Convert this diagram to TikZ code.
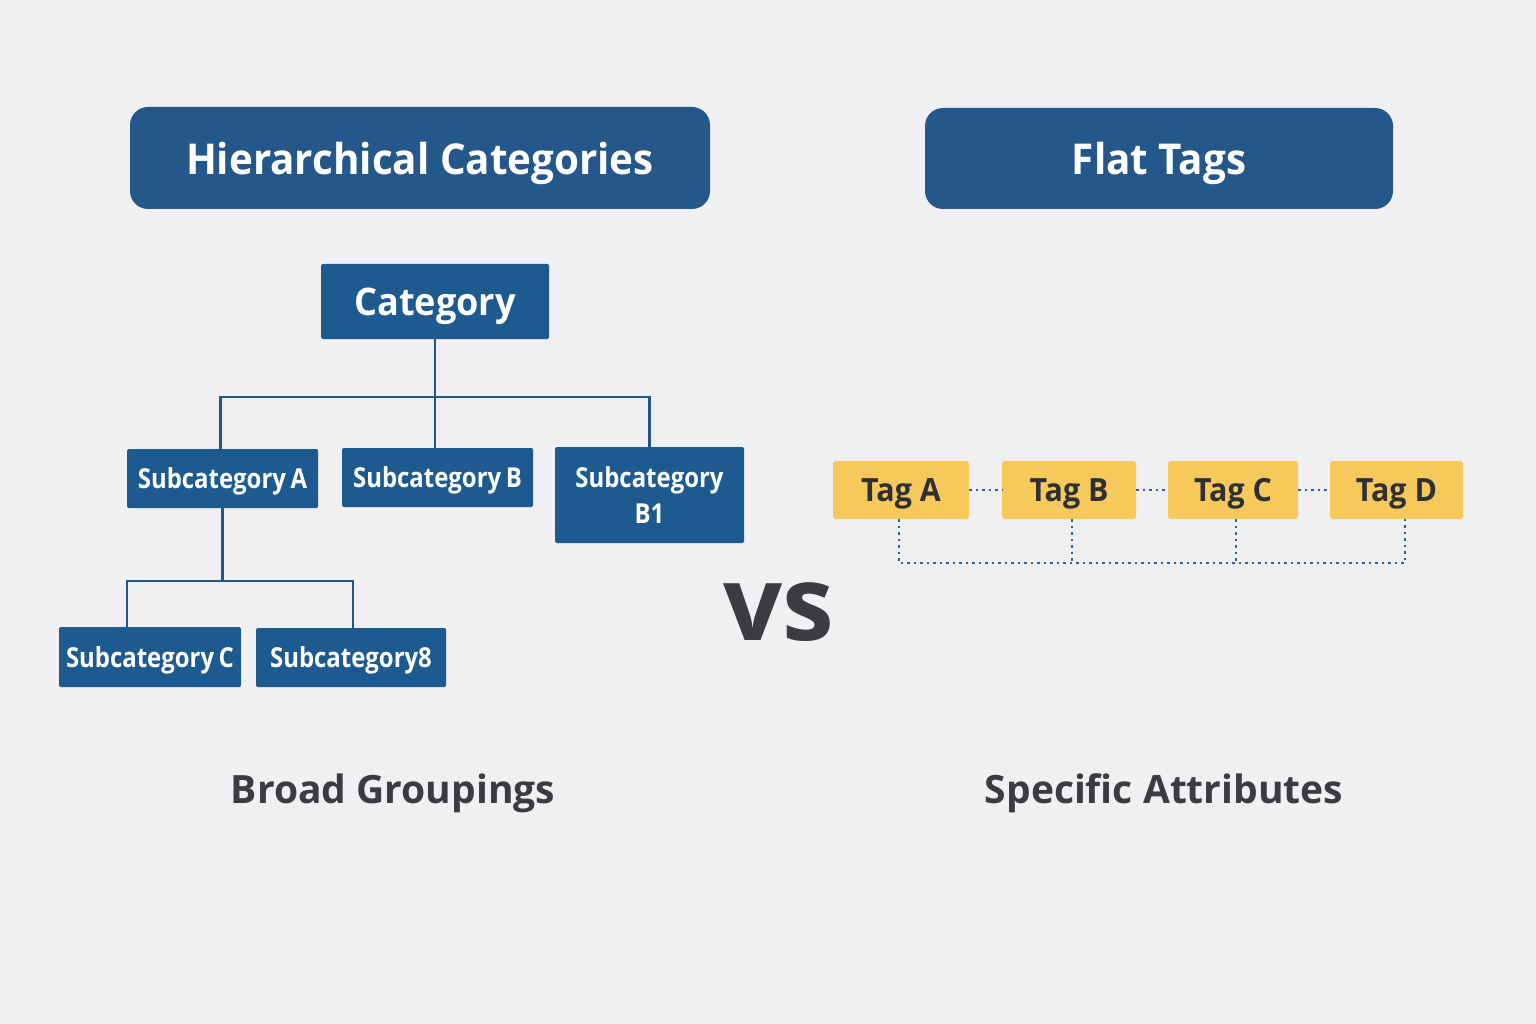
\documentclass[tikz,border=0pt]{standalone}
\usepackage{fontspec}
\setmainfont{Open Sans}
\newfontfamily\narrowfont[FakeStretch=0.95]{Open Sans}
\newfontfamily\condfont[FakeStretch=0.87]{Open Sans}
\usetikzlibrary{positioning}

\definecolor{bgcolor}{RGB}{240,240,242}
\definecolor{headblue}{RGB}{36,88,138}
\definecolor{boxblue}{RGB}{29,90,144}
\definecolor{lineblue}{RGB}{33,86,136}
\definecolor{dotblue}{RGB}{45,100,160}
\definecolor{tagyellow}{RGB}{247,201,92}
\definecolor{darktext}{RGB}{58,60,64}

\begin{document}
\begin{tikzpicture}[x=1pt,y=-1pt,
    header/.style={rectangle, rounded corners=18pt, fill=headblue, text=white, text depth=0pt,
        font=\narrowfont\bfseries\fontsize{42.5}{50}\selectfont, inner sep=0pt},
    catbox/.style={rectangle, rounded corners=1.5pt, fill=boxblue, text=white,
        inner sep=0pt, align=center},
    tagbox/.style={rectangle, rounded corners=3pt, fill=tagyellow, text=darktext!80!black,
        minimum height=58pt, inner sep=0pt, text depth=0pt,
        font=\narrowfont\bfseries\fontsize{32}{36}\selectfont},
    tree/.style={draw=lineblue, line width=2.6pt},
    dots/.style={draw=dotblue, line width=2pt, dash pattern=on 2.5pt off 4pt},
    caption/.style={text=darktext, text depth=0pt, font=\bfseries\fontsize{39}{46}\selectfont}]

% background and page size
\fill[bgcolor] (0,0) rectangle (1536,1024);
\useasboundingbox (0,0) rectangle (1536,1024);

% headers
\node[header, minimum width=580pt, minimum height=102pt] (hier) at (420,158) {Hierarchical Categories};
\node[header, minimum width=468pt, minimum height=101pt] (flat) at (1159,158.5) {Flat Tags};

% category tree
\node[catbox, minimum width=228pt, minimum height=75pt, text depth=0pt,
      font=\narrowfont\bfseries\fontsize{38}{44}\selectfont] (cat) at (435,301.5) {Category};
\begin{scope}[every node/.append style={font=\condfont\bfseries\fontsize{27.5}{36}\selectfont}]
\node[catbox, minimum width=191pt, minimum height=59pt, text depth=0pt] (subA) at (222.5,478.5) {Subcategory\,A};
\node[catbox, minimum width=191pt, minimum height=59pt, text depth=0pt] (subB) at (437.5,477.5) {Subcategory\,B};
\node[catbox, minimum width=189pt, minimum height=96pt] (subB1) at (649.5,495) {Subcategory\\B1};
\node[catbox, minimum width=182pt, minimum height=60pt, text depth=0pt] (subC) at (150,657) {Subcategory\,C};
\node[catbox, minimum width=190pt, minimum height=59pt, text depth=0pt] (sub8) at (351,657.5) {Subcategory8};
\end{scope}

\coordinate (split1) at (435,397);
\coordinate (split2) at (222.5,581);
\draw[tree] (cat.south) -- (split1);
\draw[tree] (split1) -| ([xshift=-2pt]subA.north);
\draw[tree] (split1) -- (split1 |- subB.north);
\draw[tree] (split1) -| (subB1.north);
\draw[tree] (subA.south) -- (split2);
\draw[tree] (split2) -| ([xshift=-23pt]subC.north);
\draw[tree] (split2) -| ([xshift=2pt]sub8.north);

% vs
\node[text=darktext, font=\bfseries\fontsize{104}{110}\selectfont] (vs) at (779,612) {vs};

% flat tags
\node[tagbox, minimum width=136pt] (tagA) at (901,490) {Tag A};
\node[tagbox, minimum width=134pt] (tagB) at (1069,490) {Tag B};
\node[tagbox, minimum width=130pt] (tagC) at (1233,490) {Tag C};
\node[tagbox, minimum width=133pt] (tagD) at (1396.5,490) {Tag D};

\draw[dots] (tagA.east) -- (tagB.west);
\draw[dots] (tagB.east) -- (tagC.west);
\draw[dots] (tagC.east) -- (tagD.west);

\coordinate (bus) at (0,563);
\draw[dots] ([xshift=-2pt]tagA.south) -- ([xshift=-2pt]tagA.south |- bus)
    -- ([xshift=8.5pt]tagD.south |- bus) -- ([xshift=8.5pt]tagD.south);
\draw[dots] ([xshift=3pt]tagB.south) -- ([xshift=3pt]tagB.south |- bus);
\draw[dots] ([xshift=3pt]tagC.south) -- ([xshift=3pt]tagC.south |- bus);

% captions
\node[caption] (broad) at (393,789) {Broad Groupings};
\node[caption] (specific) at (1164,789) {Specific Attributes};

\end{tikzpicture}
\end{document}
